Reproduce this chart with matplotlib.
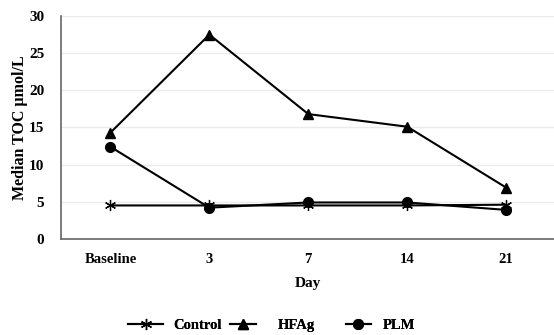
import matplotlib
matplotlib.use("Agg")
import matplotlib.pyplot as plt

categories = ["Baseline", "3", "7", "14", "21"]
control = [4.5, 4.5, 4.5, 4.5, 4.6]
hfag = [14.3, 27.5, 16.8, 15.1, 6.9]
plm = [12.4, 4.2, 4.9, 4.9, 3.9]

plt.rcParams['font.family'] = ['Liberation Serif', 'DejaVu Serif']
plt.rcParams['font.weight'] = 'bold'

W, H = 554, 335
fig = plt.figure(figsize=(W / 100, H / 100), dpi=100)
ax = fig.add_axes([0.110, 0.287, 0.893, 0.665])
x = list(range(len(categories)))

l1, = ax.plot(x, control, color='black', lw=1.5, marker=(6, 2, 0), ms=8, mew=0.9, label='Control')
l2, = ax.plot(x, hfag, color='black', lw=1.5, marker='^', ms=7, label='HFAg')
l3, = ax.plot(x, plm, color='black', lw=1.5, marker='o', ms=7, label='PLM')

ax.set_xlim(-0.5, len(categories) - 0.5)
ax.set_ylim(0, 30)
ax.set_yticks(range(0, 31, 5))
ax.set_xticks(x)
ax.set_xticklabels(categories, fontsize=10.5, fontweight='bold')
ax.tick_params(axis='x', length=0, labelsize=10.5, pad=10)
ax.tick_params(axis='y', length=0, labelsize=11, pad=12)
for lab in ax.get_yticklabels():
    lab.set_fontweight('bold')
ax.grid(axis='y', color='#ebebeb', lw=1)
ax.set_axisbelow(True)
for s in ['top', 'right']:
    ax.spines[s].set_visible(False)
ax.spines['left'].set_color('#666666')
ax.spines['bottom'].set_color('#666666')
ax.spines['left'].set_linewidth(1.2)
ax.spines['bottom'].set_linewidth(1.2)

ax.set_ylabel('Median TOC µmol/L', fontsize=11.5, fontweight='bold', labelpad=1)
ax.set_xlabel('Day', fontsize=11, fontweight='bold', labelpad=8)

# legend entries placed individually (handle start x in pixels, handle length, text gap)
entries = [(l1, 'Control', 128, 2.4, 0.7), (l2, 'HFAg', 230, 1.8, 1.5), (l3, 'PLM', 346, 1.7, 0.8)]
for h, txt, px, hl, tp in entries:
    lg = fig.legend([h], [txt], loc='center left', bbox_to_anchor=(px / W, 1 - 325 / H),
                    frameon=False, prop={'weight': 'bold', 'size': 10.5}, handlelength=hl,
                    handletextpad=tp, borderpad=0, borderaxespad=0)
    fig.add_artist(lg)

fig.savefig('out.png', dpi=100)
